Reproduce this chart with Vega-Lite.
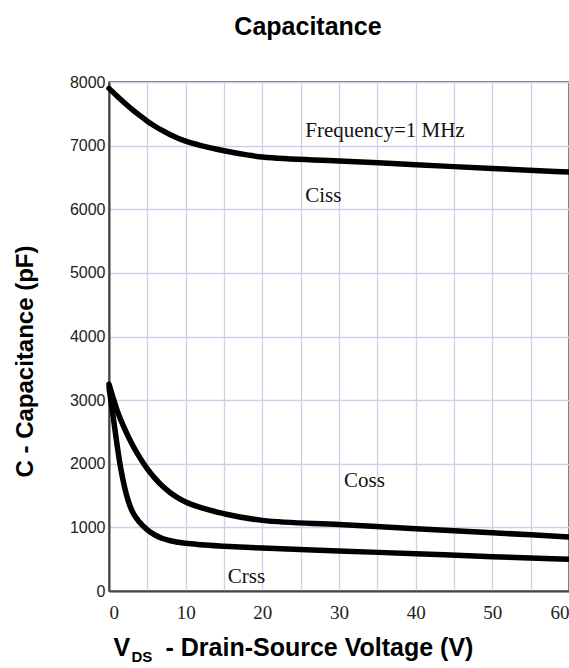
{
  "$schema": "https://vega.github.io/schema/vega-lite/v6.json",
  "width": 460,
  "height": 509,
  "autosize": {"type": "none"},
  "padding": {"left": 109, "top": 82, "right": 0, "bottom": 77},
  "background": "white",
  "config": {"view": {"stroke": "#444", "strokeWidth": 1.5}},
  "title": {
    "text": "Capacitance",
    "font": "Liberation Sans",
    "fontSize": 25,
    "fontWeight": "bold",
    "color": "#000",
    "frame": "group",
    "anchor": "middle",
    "dx": -31,
    "offset": 34
  },
  "datasets": {
    "curves": [
      {"series": "Ciss", "vds": 0, "cap": 7900},
      {"series": "Ciss", "vds": 1, "cap": 7785},
      {"series": "Ciss", "vds": 2, "cap": 7675},
      {"series": "Ciss", "vds": 3, "cap": 7570},
      {"series": "Ciss", "vds": 4, "cap": 7475},
      {"series": "Ciss", "vds": 5, "cap": 7385},
      {"series": "Ciss", "vds": 6, "cap": 7305},
      {"series": "Ciss", "vds": 7, "cap": 7235},
      {"series": "Ciss", "vds": 8, "cap": 7170},
      {"series": "Ciss", "vds": 9, "cap": 7115},
      {"series": "Ciss", "vds": 10, "cap": 7070},
      {"series": "Ciss", "vds": 12, "cap": 7000},
      {"series": "Ciss", "vds": 15, "cap": 6920},
      {"series": "Ciss", "vds": 18, "cap": 6855},
      {"series": "Ciss", "vds": 20, "cap": 6820},
      {"series": "Ciss", "vds": 30, "cap": 6760},
      {"series": "Ciss", "vds": 40, "cap": 6700},
      {"series": "Ciss", "vds": 50, "cap": 6640},
      {"series": "Ciss", "vds": 60, "cap": 6585},
      {"series": "Coss", "vds": 0, "cap": 3250},
      {"series": "Coss", "vds": 0.5, "cap": 3050},
      {"series": "Coss", "vds": 1, "cap": 2860},
      {"series": "Coss", "vds": 2, "cap": 2560},
      {"series": "Coss", "vds": 3, "cap": 2310},
      {"series": "Coss", "vds": 4, "cap": 2100},
      {"series": "Coss", "vds": 5, "cap": 1920},
      {"series": "Coss", "vds": 6, "cap": 1770},
      {"series": "Coss", "vds": 7, "cap": 1645},
      {"series": "Coss", "vds": 8, "cap": 1545},
      {"series": "Coss", "vds": 9, "cap": 1465},
      {"series": "Coss", "vds": 10, "cap": 1400},
      {"series": "Coss", "vds": 12, "cap": 1310},
      {"series": "Coss", "vds": 15, "cap": 1215},
      {"series": "Coss", "vds": 20, "cap": 1110},
      {"series": "Coss", "vds": 30, "cap": 1045},
      {"series": "Coss", "vds": 40, "cap": 980},
      {"series": "Coss", "vds": 50, "cap": 915},
      {"series": "Coss", "vds": 60, "cap": 850},
      {"series": "Crss", "vds": 0, "cap": 3200},
      {"series": "Crss", "vds": 0.5, "cap": 2780},
      {"series": "Crss", "vds": 1, "cap": 2340},
      {"series": "Crss", "vds": 1.5, "cap": 1950},
      {"series": "Crss", "vds": 2, "cap": 1650},
      {"series": "Crss", "vds": 2.5, "cap": 1420},
      {"series": "Crss", "vds": 3, "cap": 1260},
      {"series": "Crss", "vds": 4, "cap": 1080},
      {"series": "Crss", "vds": 5, "cap": 960},
      {"series": "Crss", "vds": 6, "cap": 880},
      {"series": "Crss", "vds": 7, "cap": 825},
      {"series": "Crss", "vds": 8, "cap": 790},
      {"series": "Crss", "vds": 10, "cap": 750},
      {"series": "Crss", "vds": 12, "cap": 728},
      {"series": "Crss", "vds": 15, "cap": 705},
      {"series": "Crss", "vds": 20, "cap": 675},
      {"series": "Crss", "vds": 30, "cap": 630},
      {"series": "Crss", "vds": 40, "cap": 585},
      {"series": "Crss", "vds": 50, "cap": 540},
      {"series": "Crss", "vds": 60, "cap": 500}
    ],
    "note": [
      {"label": "Frequency=1 MHz", "vds": 25.6, "cap": 7136}
    ],
    "names": [
      {"label": "Ciss", "vds": 25.6, "cap": 6114},
      {"label": "Coss", "vds": 30.65, "cap": 1635},
      {"label": "Crss", "vds": 15.5, "cap": 126}
    ]
  },
  "layer": [
    {
      "data": {"name": "curves"},
      "mark": {"type": "line", "interpolate": "monotone", "strokeWidth": 5.5, "color": "#000", "strokeCap": "round"},
      "encoding": {
        "x": {
          "field": "vds", "type": "quantitative",
          "scale": {"domain": [0, 60], "nice": false},
          "axis": {
            "orient": "bottom",
            "values": [0, 5, 10, 15, 20, 25, 30, 35, 40, 45, 50, 55, 60],
            "labelExpr": "datum.value % 10 === 0 ? datum.label : ''",
            "labelFlush": true,
            "labelFont": "Liberation Sans Narrow",
            "labelFontSize": 19,
            "labelColor": "#222",
            "labelPadding": 12,
            "ticks": false,
            "grid": true,
            "gridColor": "#cad2ea",
            "gridWidth": 1.3,
            "domainColor": "#444",
            "domainWidth": 2,
            "title": "V",
            "titleFont": "Liberation Sans",
            "titleFontSize": 25,
            "titleFontWeight": "bold",
            "titleColor": "#000",
            "titleX": 4,
            "titleY": 64,
            "titleAlign": "left",
            "titleBaseline": "alphabetic"
          }
        },
        "y": {
          "field": "cap", "type": "quantitative",
          "scale": {"domain": [0, 8000], "nice": false},
          "axis": {
            "values": [0, 500, 1000, 1500, 2000, 2500, 3000, 3500, 4000, 4500, 5000, 5500, 6000, 6500, 7000, 7500, 8000],
            "labelExpr": "datum.value % 1000 === 0 ? datum.label : ''",
            "format": "d",
            "labelFont": "Liberation Sans",
            "labelFontSize": 16,
            "labelColor": "#222",
            "labelPadding": 4,
            "ticks": false,
            "grid": true,
            "gridColor": "#cad2ea",
            "gridWidth": 1.3,
            "domainColor": "#444",
            "domainWidth": 2,
            "title": "C - Capacitance (pF)",
            "titleFont": "Liberation Sans",
            "titleFontSize": 24,
            "titleFontWeight": "bold",
            "titleColor": "#000",
            "titleX": -84,
            "titleY": 279,
            "titleAlign": "center",
            "titleBaseline": "middle"
          }
        },
        "detail": {"field": "series", "type": "nominal"}
      }
    },
    {
      "data": {"name": "note"},
      "mark": {"type": "text", "font": "Liberation Serif", "fontSize": 21, "color": "#111", "align": "left", "baseline": "alphabetic"},
      "encoding": {
        "x": {
          "field": "vds", "type": "quantitative",
          "axis": {
            "orient": "bottom",
            "labels": false, "ticks": false, "grid": false, "domain": false,
            "title": "DS",
            "titleFont": "Liberation Sans",
            "titleFontSize": 15,
            "titleFontWeight": "bold",
            "titleColor": "#000",
            "titleX": 22,
            "titleY": 70,
            "titleAlign": "left",
            "titleBaseline": "alphabetic"
          }
        },
        "y": {"field": "cap", "type": "quantitative"},
        "text": {"field": "label"}
      }
    },
    {
      "data": {"name": "names"},
      "mark": {"type": "text", "font": "Liberation Serif", "fontSize": 21, "color": "#111", "align": "left", "baseline": "alphabetic"},
      "encoding": {
        "x": {
          "field": "vds", "type": "quantitative",
          "axis": {
            "orient": "bottom",
            "labels": false, "ticks": false, "grid": false, "domain": false,
            "title": "- Drain-Source Voltage (V)",
            "titleFont": "Liberation Sans",
            "titleFontSize": 25,
            "titleFontWeight": "bold",
            "titleColor": "#000",
            "titleX": 56,
            "titleY": 64,
            "titleAlign": "left",
            "titleBaseline": "alphabetic"
          }
        },
        "y": {"field": "cap", "type": "quantitative"},
        "text": {"field": "label"}
      }
    }
  ],
  "resolve": {"axis": {"x": "independent"}}
}
